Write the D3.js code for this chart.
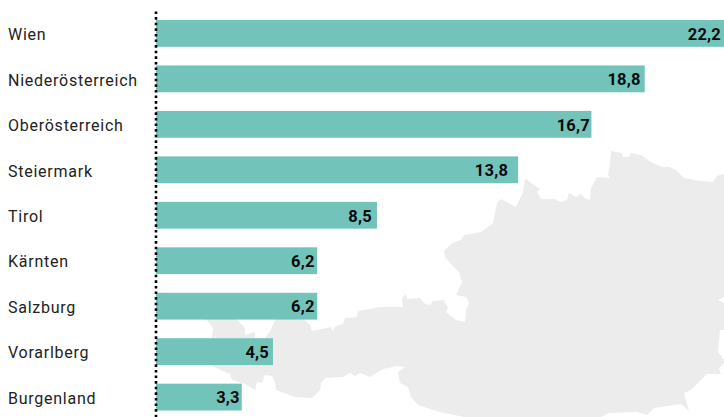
<!DOCTYPE html>
<html>
<head>
<meta charset="utf-8">
<script src="https://cdn.jsdelivr.net/npm/d3@7"></script>
<style>
	html, body { margin: 0; padding: 0; background: #fff; overflow: hidden; }
	svg { display: block; }
	.label text { font-family: Roboto, sans-serif; font-size: 16px; letter-spacing: 0.75px; fill: #222; }
	.value { font-family: Roboto, sans-serif; font-size: 16.5px; font-weight: 700; letter-spacing: 0.2px; fill: #0a0a0a; }
</style>
</head>
<body>
<div id="chart"></div>
<script>
var regions = ["Wien", "Niederösterreich", "Oberösterreich", "Steiermark", "Tirol", "Kärnten", "Salzburg", "Vorarlberg", "Burgenland"];
// bar lengths as drawn in the picture, they differ a little from the printed figures
var shares = [22.2, 18.8, 16.75, 13.93, 8.5, 6.2, 6.2, 4.5, 3.3];
var shareLabels = ["22,2", "18,8", "16,7", "13,8", "8,5", "6,2", "6,2", "4,5", "3,3"];

// silhouette of Austria behind the bars, traced in page pixels
var mapOutline = [
	[724,174],[717,176],[713,182],[701,181],[684,178],[676,170],[669,167],[662,167],[651,162],[641,155],
	[631,153],[629,157],[623,157],[622,153],[611,151],[610,163],[608,175],[610,178],[597,177],[591,188],
	[590,200],[586,199],[581,194],[576,197],[569,193],[567,200],[561,202],[554,199],[541,199],[537,192],
	[540,189],[531,183],[525,178],[523,192],[516,207],[501,199],[497,203],[493,223],[481,232],[464,235],
	[461,240],[452,243],[444,251],[445,257],[452,265],[459,272],[462,282],[456,295],[466,297],[469,303],
	[466,310],[465,322],[456,320],[446,312],[448,307],[445,303],[444,300],[433,301],[430,305],[425,304],
	[420,298],[407,299],[406,294],[402,298],[403,307],[380,307],[358,311],[357,317],[345,318],[343,324],
	[336,326],[332,331],[331,327],[312,331],[310,325],[300,316],[276,316],[274,322],[270,332],[263,340],
	[255,340],[255,332],[245,335],[245,328],[235,318],[205,318],[213,328],[212,336],[208,345],[212,366],
	[230,374],[232,380],[245,384],[255,390],[257,382],[262,383],[265,375],[272,376],[275,382],[276,390],
	[295,397],[312,398],[320,390],[321,383],[325,378],[343,377],[350,373],[355,376],[360,373],[370,377],
	[383,369],[397,366],[405,367],[398,372],[400,383],[408,387],[411,397],[418,405],[440,412],[464,417],
	[601,417],[609,413],[637,412],[647,415],[654,408],[681,404],[689,411],[684,393],[691,390],[707,374],
	[721,374],[719,368],[724,363],[724,360],[718,352],[720,330],[724,330],[724,303],[718,300],[724,297]
];

var width = 724, height = 417;

var svg = d3.select("#chart").append("svg")
	.attr("width", width)
	.attr("height", height);

// set the ranges, Wien runs off the page so the scale is clamped
var x = d3.scaleLinear().domain([0, 21.85]).range([156, width]).clamp(true);
var y = d3.scaleBand().domain(regions).range([20, 410.5]).paddingInner(0.41);

// gap between bar end and its figure, not the same on every bar in the original
var valueGap = [3, 4, 1.5, 10, 5, 2.5, 2.5, 4, 2];

// background map
var outline = d3.line();
svg.append("path")
	.attr("d", outline(mapOutline) + "Z")
	.attr("fill", "#ececec");

// bars
svg.selectAll("rect.bar")
	.data(regions)
	.enter().append("rect")
	.attr("class", "bar")
	.attr("x", x(0))
	.attr("y", function (d) { return y(d); })
	.attr("width", function (d, i) { return x(shares[i]) - x(0); })
	.attr("height", y.bandwidth())
	.attr("fill", "#72c4ba");

// values
svg.selectAll("text.value")
	.data(regions)
	.enter().append("text")
	.attr("class", "value")
	.attr("x", function (d, i) { return x(shares[i]) - valueGap[i]; })
	.attr("y", function (d) { return y(d) + y.bandwidth() / 2; })
	.attr("dy", "0.38em")
	.attr("text-anchor", "end")
	.text(function (d, i) { return shareLabels[i]; });

// region labels
var yAxis = svg.append("g")
	.attr("class", "label")
	.attr("transform", "translate(8,1)")
	.call(d3.axisLeft(y).tickSize(0));
yAxis.select(".domain").remove();
yAxis.selectAll("text")
	.attr("x", 0)
	.attr("dy", "0.36em")
	.style("text-anchor", "start");

// dotted zero line
svg.append("line")
	.attr("x1", x(0))
	.attr("x2", x(0))
	.attr("y1", 11.5)
	.attr("y2", height)
	.attr("stroke", "#000")
	.attr("stroke-width", 2.6)
	.attr("stroke-dasharray", "2.6 3");
</script>
</body>
</html>
